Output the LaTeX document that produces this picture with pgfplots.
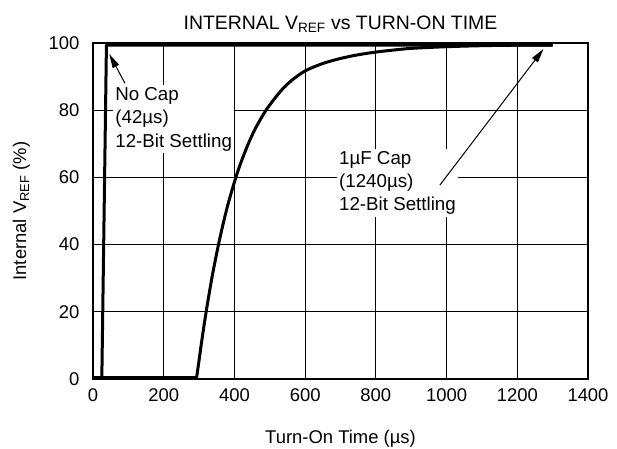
\documentclass[border=0pt]{standalone}
\usepackage{fontspec}
\setmainfont{Liberation Sans}
\usepackage{pgfplots}
\pgfplotsset{compat=1.18}
\usetikzlibrary{arrows.meta}
\begin{document}
\begin{tikzpicture}
\useasboundingbox (-93bp,-70bp) rectangle (524bp,379bp);
\begin{axis}[
  at={(0,0)}, anchor=south west,
  scale only axis, width=495bp, height=336bp,
  xmin=0, xmax=1400, ymin=0, ymax=100,
  xtick={0,200,...,1400}, ytick={0,20,...,100},
  grid=major, major grid style={black, line width=0.8bp},
  axis line style={line width=2.5bp},
  major tick length=0pt,
  clip=false,
  /pgf/number format/assume math mode=true,
  /pgf/number format/1000 sep={},
  tick label style={font=\fontsize{18.5}{21}\selectfont},
  xticklabel style={yshift=-6bp},
  yticklabel style={xshift=-10bp},
  label style={font=\fontsize{18.5}{21}\selectfont},
  xlabel style={yshift=-22bp},
  ylabel style={yshift=12bp},
  title style={font=\fontsize{19.5}{22}\selectfont, yshift=1bp},
  title={INTERNAL V\textsubscript{REF} vs TURN-ON TIME},
  xlabel={Turn-On Time (µs)},
  ylabel={Internal V\textsubscript{REF} (\%)},
]
% No Cap
\addplot[black, line width=3bp, line join=round] coordinates {
 (0,0.4) (25,0.4) (38,99.4) (1300,99.4)
};
% 1uF Cap
\addplot[black, line width=3bp, line join=round] coordinates {
 (0,0.4) (293,0.4)
};
\addplot[black, line width=3bp, smooth, tension=0.5] coordinates {
 (293,0.4) (300,5.6) (310,13.1) (324,22.6) (340,32.2) (359,42.0)
 (380,51.3) (404,60.0) (420,64.9) (440,70.2) (460,74.7) (490,80.1)
 (530,85.6) (560,88.7) (600,91.7) (650,93.9) (700,95.4) (750,96.5)
 (800,97.3) (850,97.9) (900,98.4) (1000,98.9) (1100,99.2) (1200,99.35)
 (1300,99.4)
};
\node[fill=white, align=left, anchor=north west, inner sep=2bp,
  font=\fontsize{18.8}{23.5}\selectfont] at (axis cs:57,87.5)
  {No Cap\\(42µs)\\12-Bit Settling};
\node[fill=white, align=left, anchor=north west, inner sep=2bp,
  font=\fontsize{18.8}{23.5}\selectfont] at (axis cs:690,68.5)
  {1µF Cap\\(1240µs)\\12-Bit Settling};
\draw[-{Triangle[length=14bp,width=7bp]}, line width=1bp]
  (axis cs:90.5,88) -- (axis cs:46,96.7);
\draw[-{Triangle[length=14bp,width=7bp]}, line width=1bp]
  (axis cs:981,57.7) -- (axis cs:1274,98.2);
\end{axis}
\end{tikzpicture}
\end{document}
